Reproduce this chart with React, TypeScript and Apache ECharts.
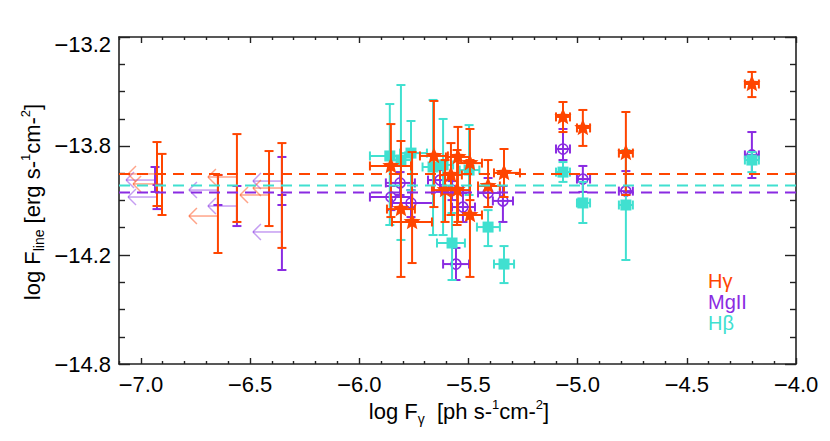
import React, { useEffect, useRef } from 'react';
import * as echarts from 'echarts';

const X_MIN = -7.1;
const X_MAX = -4.0;
const Y_MIN = -14.8;
const Y_MAX = -13.2;

const xTickValues = [-7.0, -6.5, -6.0, -5.5, -5.0, -4.5, -4.0];
const xTickLabels = ['−7.0', '−6.5', '−6.0', '−5.5', '−5.0', '−4.5', '−4.0'];
const yTickValues = [-14.8, -14.2667, -13.7333, -13.2];
const yTickLabels = ['−14.8', '−14.2', '−13.8', '−13.2'];

// detections: [x, xLow, xHigh, y, yLow, yHigh]
const hGammaPoints = [
  [-5.855, -5.951, -5.763, -13.831, -14.081, -13.626],
  [-5.809, -5.873, -5.745, -14.042, -14.374, -13.709],
  [-5.758, -5.85, -5.667, -14.105, -14.306, -13.763],
  [-5.658, -5.722, -5.594, -13.782, -14.032, -13.513],
  [-5.548, -5.603, -5.493, -13.787, -14.105, -13.64],
  [-5.58, -5.63, -5.53, -13.875, -14.071, -13.719],
  [-5.607, -5.667, -5.548, -13.949, -14.105, -13.802],
  [-5.552, -5.607, -5.493, -13.949, -14.12, -13.753],
  [-5.493, -5.548, -5.438, -13.817, -13.998, -13.65],
  [-5.493, -5.548, -5.438, -14.071, -14.374, -13.802],
  [-5.41, -5.456, -5.356, -13.929, -14.032, -13.802],
  [-5.337, -5.383, -5.264, -13.865, -13.983, -13.748],
  [-5.067, -5.099, -5.035, -13.591, -13.665, -13.518],
  [-4.976, -5.003, -4.943, -13.645, -13.733, -13.557],
  [-4.779, -4.811, -4.747, -13.768, -13.973, -13.567],
  [-4.202, -4.234, -4.17, -13.43, -13.494, -13.371],
];

const mgIIPoints = [
  [-5.813, -5.878, -5.745, -13.914, -13.973, -13.861],
  [-5.855, -5.951, -5.758, -13.983, -14.047, -13.929],
  [-5.763, -5.85, -5.662, -14.012, -14.081, -13.949],
  [-5.557, -5.616, -5.497, -14.311, -14.389, -14.232],
  [-5.342, -5.388, -5.296, -14.002, -14.105, -13.929],
  [-5.41, -5.456, -5.356, -13.963, -14.032, -13.89],
  [-5.63, -5.685, -5.575, -13.9, -13.958, -13.851],
  [-5.525, -5.575, -5.47, -14.032, -14.105, -13.963],
  [-5.575, -5.625, -5.525, -13.949, -13.998, -13.905],
  [-5.067, -5.099, -5.035, -13.748, -13.802, -13.65],
  [-4.976, -5.003, -4.943, -13.895, -13.958, -13.831],
  [-4.779, -4.811, -4.747, -13.954, -13.973, -13.856],
  [-4.202, -4.234, -4.17, -13.777, -13.89, -13.665],
];

const hBetaPoints = [
  [-5.86, -5.951, -5.79, -13.782, -14.12, -13.528],
  [-5.763, -5.813, -5.69, -13.768, -13.95, -13.611],
  [-5.809, -5.86, -5.76, -13.802, -14.193, -13.435],
  [-5.575, -5.644, -5.516, -14.208, -14.389, -14.061],
  [-5.41, -5.461, -5.356, -14.13, -14.223, -14.047],
  [-5.337, -5.383, -5.291, -14.311, -14.404, -14.223],
  [-5.662, -5.71, -5.61, -13.836, -14.169, -13.508],
  [-5.616, -5.66, -5.57, -13.826, -14.169, -13.601],
  [-5.497, -5.54, -5.45, -13.851, -13.973, -13.631],
  [-5.067, -5.099, -5.035, -13.861, -13.909, -13.812],
  [-4.976, -5.003, -4.943, -14.012, -14.11, -13.909],
  [-4.779, -4.811, -4.747, -14.022, -14.291, -13.753],
  [-4.202, -4.234, -4.17, -13.802, -13.861, -13.763],
];

// gamma-ray upper limits: [xLimit, y, yLow, yHigh]
const hGammaLimits = [
  [-6.926, -13.87, -14.027, -13.714],
  [-6.903, -13.919, -14.071, -13.772],
  [-6.647, -14.076, -14.257, -13.875],
  [-6.56, -13.885, -14.105, -13.675],
  [-6.413, -13.973, -14.125, -13.758],
  [-6.354, -13.939, -14.232, -13.719],
];

const mgIILimits = [
  [-6.935, -13.9, -13.958, -13.836],
  [-6.926, -13.983, -14.042, -13.924],
  [-6.647, -13.949, -14.022, -13.875],
  [-6.56, -14.027, -14.125, -13.929],
  [-6.354, -13.905, -14.022, -13.787],
  [-6.354, -14.154, -14.34, -13.973],
];

const hGammaMean = -13.87;
const hBetaMean = -13.926;
const mgIIMean = -13.961;

const C_HG = '#FF4500';
const C_MG = '#8A2BE2';
const C_HB = '#40E0D0';
const C_HG_ARROW = 'rgba(255,90,40,0.55)';
const C_MG_ARROW = 'rgba(140,60,230,0.5)';
const FONT = 'Liberation Sans';
const AXIS_COLOR = '#222';

function starPoints(cx: number, cy: number, rOut: number, rIn: number) {
  const pts: number[][] = [];
  for (let i = 0; i < 10; i++) {
    const a = -Math.PI / 2 + (i * Math.PI) / 5;
    const r = i % 2 === 0 ? rOut : rIn;
    pts.push([cx + r * Math.cos(a), cy + r * Math.sin(a)]);
  }
  return pts;
}

function makeErrRender(color: string, kind: string) {
  return (_params: any, api: any) => {
    const x = api.value(0), xl = api.value(1), xh = api.value(2);
    const y = api.value(3), yl = api.value(4), yh = api.value(5);
    const c = api.coord([x, y]);
    const cx = c[0], cy = c[1];
    const xL = api.coord([xl, y])[0];
    const xH = api.coord([xh, y])[0];
    const yT = api.coord([x, yh])[1];
    const yB = api.coord([x, yl])[1];
    const st = { stroke: color, lineWidth: 2 };
    const cap = 4.5;
    const children: any[] = [
      { type: 'line', shape: { x1: cx, y1: yT, x2: cx, y2: yB }, style: st },
      { type: 'line', shape: { x1: cx - cap, y1: yT, x2: cx + cap, y2: yT }, style: st },
      { type: 'line', shape: { x1: cx - cap, y1: yB, x2: cx + cap, y2: yB }, style: st },
      { type: 'line', shape: { x1: xL, y1: cy, x2: xH, y2: cy }, style: st },
      { type: 'line', shape: { x1: xL, y1: cy - cap, x2: xL, y2: cy + cap }, style: st },
      { type: 'line', shape: { x1: xH, y1: cy - cap, x2: xH, y2: cy + cap }, style: st },
    ];
    if (kind === 'star') {
      children.push({ type: 'polygon', shape: { points: starPoints(cx, cy, 9, 4) }, style: { fill: color } });
    } else if (kind === 'circle') {
      children.push({ type: 'circle', shape: { cx, cy, r: 5 }, style: { fill: 'none', stroke: color, lineWidth: 1.6 } });
    } else {
      children.push({ type: 'rect', shape: { x: cx - 5.5, y: cy - 5.5, width: 11, height: 11 }, style: { fill: color } });
    }
    return { type: 'group', children };
  };
}

const ARROW_LEN = 29;

function makeLimitRender(color: string, arrowColor: string) {
  return (_params: any, api: any) => {
    const x = api.value(0), y = api.value(1), yl = api.value(2), yh = api.value(3);
    const c = api.coord([x, y]);
    const cx = c[0], cy = c[1];
    const yT = api.coord([x, yh])[1];
    const yB = api.coord([x, yl])[1];
    const st = { stroke: color, lineWidth: 2 };
    const ast = { stroke: arrowColor, lineWidth: 1.5 };
    const tip = cx - ARROW_LEN;
    const cap = 4.5;
    return {
      type: 'group',
      children: [
        { type: 'line', shape: { x1: cx, y1: cy, x2: tip, y2: cy }, style: ast },
        { type: 'line', shape: { x1: tip, y1: cy, x2: tip + 8, y2: cy - 8 }, style: ast },
        { type: 'line', shape: { x1: tip, y1: cy, x2: tip + 8, y2: cy + 8 }, style: ast },
        { type: 'line', shape: { x1: cx, y1: yT, x2: cx, y2: yB }, style: st },
        { type: 'line', shape: { x1: cx - cap, y1: yT, x2: cx + cap, y2: yT }, style: st },
        { type: 'line', shape: { x1: cx - cap, y1: yB, x2: cx + cap, y2: yB }, style: st },
      ],
    };
  };
}

function measure(text: string, size: number) {
  const ctx = document.createElement('canvas').getContext('2d');
  if (!ctx) return text.length * size * 0.5;
  ctx.font = `${size}px "Liberation Sans"`;
  return ctx.measureText(text).width;
}

type Part = { t: string; s: number; dy: number };

function richTitle(parts: Part[], x: number, y: number, rotation: number) {
  const widths = parts.map((p) => measure(p.t, p.s));
  const total = widths.reduce((a, b) => a + b, 0);
  let pos = -total / 2;
  const children = parts.map((p, i) => {
    const el = {
      type: 'text',
      x: pos,
      y: p.dy,
      style: {
        text: p.t,
        fontSize: p.s,
        lineHeight: p.s,
        fontFamily: FONT,
        fill: '#000',
        align: 'left',
        verticalAlign: 'middle',
      },
    };
    pos += widths[i];
    return el;
  });
  return { type: 'group', x, y, rotation, children };
}

function indexOfTick(values: number[], v: number) {
  for (let i = 0; i < values.length; i++) {
    if (Math.abs(values[i] - v) < 1e-3) return i;
  }
  return -1;
}

function splitMinus(label: string, minusKey: string, digitKey: string) {
  if (label.charAt(0) === '−') return `{${minusKey}|−}{${digitKey}|${label.slice(1)}}`;
  return `{${digitKey}|${label}}`;
}

export default function App() {
  const ref = useRef<HTMLDivElement>(null);

  useEffect(() => {
    document.body.style.margin = '0';
    if (!ref.current) return;
    const chart = echarts.init(ref.current, undefined, { renderer: 'svg' });

    const xMinor: number[] = [];
    for (let i = 0; i <= 31; i++) {
      const v = Math.round((X_MIN + i * 0.1) * 1000) / 1000;
      if (indexOfTick(xTickValues, v) < 0) xMinor.push(v);
    }
    const yMinor: number[] = [];
    for (let i = 0; i <= 12; i++) {
      if (i % 4 !== 0) yMinor.push(Y_MIN + (i * (Y_MAX - Y_MIN)) / 12);
    }

    const lineStyle = { color: AXIS_COLOR, width: 1.6 };
    const labelRich = {
      m: { fontSize: 24, lineHeight: 22, fontFamily: FONT, color: '#000' },
      d: { fontSize: 22, lineHeight: 22, fontFamily: FONT, color: '#000' },
      mt: { fontSize: 24, lineHeight: 22, fontFamily: FONT, color: '#000', padding: [14, 0, 0, 0] },
      dt: { fontSize: 22, lineHeight: 22, fontFamily: FONT, color: '#000', padding: [14, 0, 0, 0] },
    };
    const xAxisDef = (position: string, ticks: number[], len: number, main: boolean, labels: boolean) => ({
      type: 'value',
      min: X_MIN,
      max: X_MAX,
      position,
      axisLine: { show: main, onZero: false, lineStyle },
      axisTick: { show: true, inside: true, length: len, customValues: ticks, lineStyle: { color: AXIS_COLOR, width: 1.4 } },
      axisLabel: labels
        ? {
            show: true,
            customValues: ticks,
            margin: 9,
            fontSize: 22,
            lineHeight: 22,
            fontFamily: FONT,
            color: '#000',
            formatter: (v: number) => {
              const i = indexOfTick(xTickValues, v);
              return i >= 0 ? splitMinus(xTickLabels[i], 'm', 'd') : '';
            },
            rich: labelRich,
          }
        : { show: false },
      splitLine: { show: false },
    });
    const yAxisDef = (position: string, ticks: number[], len: number, main: boolean, labels: boolean) => ({
      type: 'value',
      min: Y_MIN,
      max: Y_MAX,
      position,
      axisLine: { show: main, onZero: false, lineStyle },
      axisTick: { show: true, inside: true, length: len, customValues: ticks, lineStyle: { color: AXIS_COLOR, width: 1.4 } },
      axisLabel: labels
        ? {
            show: true,
            customValues: ticks,
            margin: 8,
            fontSize: 22,
            lineHeight: 22,
            fontFamily: FONT,
            color: '#000',
            formatter: (v: number) => {
              const i = indexOfTick(yTickValues, v);
              if (i < 0) return '';
              if (i === yTickValues.length - 1) return splitMinus(yTickLabels[i], 'mt', 'dt');
              return splitMinus(yTickLabels[i], 'm', 'd');
            },
            rich: labelRich,
          }
        : { show: false },
      splitLine: { show: false },
    });

    const meanLine = (value: number, color: string) => ({
      type: 'line',
      xAxisIndex: 0,
      yAxisIndex: 0,
      data: [
        [X_MIN, value],
        [X_MAX, value],
      ],
      symbol: 'none',
      silent: true,
      lineStyle: { color, width: 2, type: [11, 7] },
    });

    const legendText = (text: string, y: number, color: string) => ({
      type: 'text',
      x: 708,
      y,
      style: { text, fontSize: 20, lineHeight: 20, fontFamily: FONT, fill: color, verticalAlign: 'middle' },
    });

    const option: any = {
      animation: false,
      backgroundColor: '#ffffff',
      grid: { left: 119, right: 34, top: 37, bottom: 77 },
      xAxis: [
        xAxisDef('bottom', xTickValues, 6, true, true),
        xAxisDef('top', xTickValues, 6, true, false),
        xAxisDef('bottom', xMinor, 3, false, false),
        xAxisDef('top', xMinor, 3, false, false),
      ],
      yAxis: [
        yAxisDef('left', yTickValues, 11, true, true),
        yAxisDef('right', yTickValues, 11, true, false),
        yAxisDef('left', yMinor, 6, false, false),
        yAxisDef('right', yMinor, 6, false, false),
      ],
      series: [
        {
          type: 'custom',
          name: 'MgII limits',
          xAxisIndex: 0,
          yAxisIndex: 0,
          renderItem: makeLimitRender(C_MG, C_MG_ARROW),
          data: mgIILimits,
          encode: { x: 0, y: 1 },
          silent: true,
        },
        {
          type: 'custom',
          name: 'Hγ limits',
          xAxisIndex: 0,
          yAxisIndex: 0,
          renderItem: makeLimitRender(C_HG, C_HG_ARROW),
          data: hGammaLimits,
          encode: { x: 0, y: 1 },
          silent: true,
        },
        meanLine(hGammaMean, C_HG),
        meanLine(hBetaMean, C_HB),
        meanLine(mgIIMean, C_MG),
        {
          type: 'custom',
          name: 'MgII',
          xAxisIndex: 0,
          yAxisIndex: 0,
          renderItem: makeErrRender(C_MG, 'circle'),
          data: mgIIPoints,
          encode: { x: 0, y: 3 },
          silent: true,
        },
        {
          type: 'custom',
          name: 'Hβ',
          xAxisIndex: 0,
          yAxisIndex: 0,
          renderItem: makeErrRender(C_HB, 'square'),
          data: hBetaPoints,
          encode: { x: 0, y: 3 },
          silent: true,
        },
        {
          type: 'custom',
          name: 'Hγ',
          xAxisIndex: 0,
          yAxisIndex: 0,
          renderItem: makeErrRender(C_HG, 'star'),
          data: hGammaPoints,
          encode: { x: 0, y: 3 },
          silent: true,
        },
      ],
      graphic: [
        richTitle(
          [
            { t: 'log F', s: 22, dy: 0 },
            { t: 'γ', s: 14, dy: 8 },
            { t: '  [ph s-', s: 22, dy: 0 },
            { t: '1', s: 13, dy: -7 },
            { t: 'cm-', s: 22, dy: 0 },
            { t: '2', s: 13, dy: -7 },
            { t: ']', s: 22, dy: 0 },
          ],
          459,
          411,
          0
        ),
        richTitle(
          [
            { t: 'log F', s: 22, dy: 0 },
            { t: 'line', s: 14, dy: 7 },
            { t: ' [erg s-', s: 22, dy: 0 },
            { t: '1', s: 13, dy: -7 },
            { t: 'cm-', s: 22, dy: 0 },
            { t: '2', s: 13, dy: -7 },
            { t: ']', s: 22, dy: 0 },
          ],
          32,
          202,
          Math.PI / 2
        ),
        legendText('Hγ', 281, C_HG),
        legendText('MgII', 302, C_MG),
        legendText('Hβ', 323, C_HB),
      ],
    };

    chart.setOption(option);
    return () => chart.dispose();
  }, []);

  return <div ref={ref} style={{ width: 830, height: 441 }} />;
}
